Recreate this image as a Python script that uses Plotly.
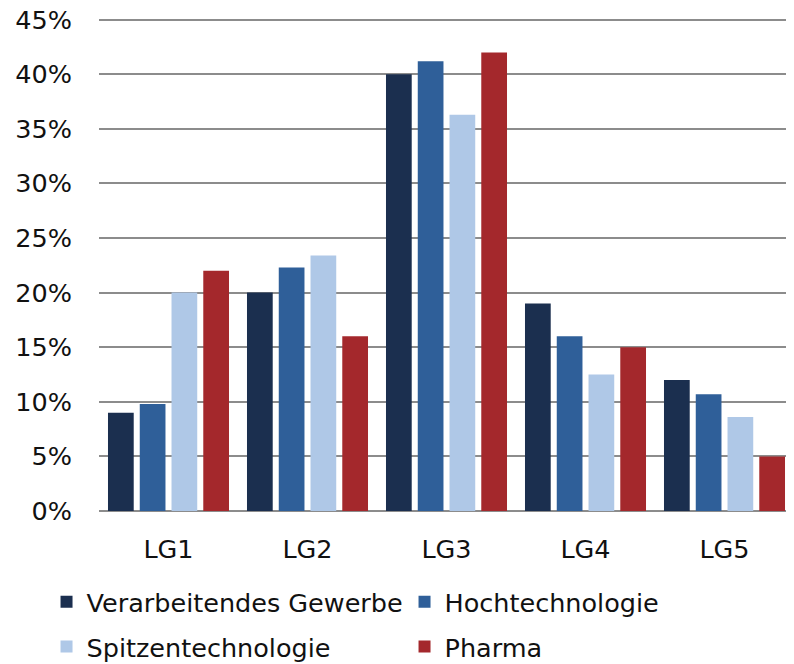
import plotly.graph_objects as go

categories = ["LG1", "LG2", "LG3", "LG4", "LG5"]
verarbeitendes = [9.0, 20.0, 40.0, 19.0, 12.0]
hochtech = [9.8, 22.3, 41.2, 16.0, 10.7]
spitzentech = [20.0, 23.4, 36.3, 12.5, 8.6]
pharma = [22.0, 16.0, 42.0, 15.0, 5.0]

series_names = ["Verarbeitendes Gewerbe", "Hochtechnologie", "Spitzentechnologie", "Pharma"]
series_values = [verarbeitendes, hochtech, spitzentech, pharma]
colors = ["#1B2F4F", "#2F5F99", "#AFC8E7", "#A4282C"]
legend_ids = ["legend", "legend", "legend2", "legend2"]

tick_vals = [0, 5, 10, 15, 20, 25, 30, 35, 40, 45]
tick_text = [f"{v}%" for v in tick_vals]

FONT = "Verdana, DejaVu Sans, sans-serif"
FS = 25.5

fig = go.Figure()
for name, vals, col, lg in zip(series_names, series_values, colors, legend_ids):
    fig.add_trace(go.Bar(
        x=categories, y=vals, name=name,
        marker=dict(color=col, line=dict(width=0)),
        legend=lg,
        hovertemplate="%{x}: %{y}%<extra>" + name + "</extra>",
    ))

legend_common = dict(
    orientation="h",
    xanchor="left",
    yanchor="middle",
    font=dict(family=FONT, size=FS, color="#111111"),
    entrywidth=313,
    entrywidthmode="pixels",
    itemclick=False,
    bgcolor="rgba(0,0,0,0)",
    traceorder="normal",
)

fig.update_layout(
    width=786, height=656,
    margin=dict(l=91, r=0, t=10, b=153, autoexpand=False),
    paper_bgcolor="white", plot_bgcolor="white",
    barmode="group",
    bargap=0.086,
    bargroupgap=0.19,
    font=dict(family=FONT, size=FS, color="#111111"),
    showlegend=True,
    legend=dict(x=-0.0755, y=-0.185, **legend_common),
    legend2=dict(x=-0.0755, y=-0.2759, **legend_common),
    xaxis=dict(
        showgrid=False, showline=False, ticks="",
        tickfont=dict(family=FONT, size=FS, color="#111111"),
        ticklabelstandoff=20,
    ),
    yaxis=dict(
        range=[0, 45.15],
        tickvals=tick_vals, ticktext=tick_text,
        showgrid=True, gridcolor="#8C8C8C", gridwidth=1.5,
        zeroline=True, zerolinecolor="#8C8C8C", zerolinewidth=1.5,
        showline=False, ticks="",
        tickfont=dict(family=FONT, size=FS, color="#111111"),
        ticklabelstandoff=26,
        ticklabeloverflow="allow",
    ),
)

fig.write_html("out.html")
